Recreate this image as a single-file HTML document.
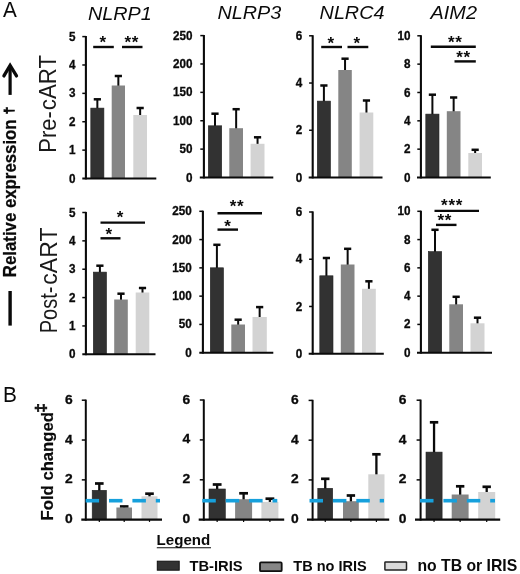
<!DOCTYPE html>
<html lang="en"><head><meta charset="utf-8"><title>Figure</title>
<style>html,body{margin:0;padding:0;background:#fff}svg{display:block;filter:blur(0.4px)}</style></head>
<body>
<svg width="520" height="574" viewBox="0 0 520 574" font-family="'Liberation Sans', sans-serif" fill="#0a0a0a">
<rect width="520" height="574" fill="#fff"/>
<text transform="translate(3.00,17.00) scale(0.95,1)" font-size="21.8" font-weight="normal" text-anchor="start"  style="">A</text>
<text transform="translate(3.00,401.90) scale(0.97,1)" font-size="21.5" font-weight="normal" text-anchor="start"  style="">B</text>
<text transform="translate(88.00,20.00) scale(1.075,1)" font-size="18.4" font-weight="normal" text-anchor="start"  style="font-style:italic">NLRP1</text>
<text transform="translate(217.50,18.80) scale(1.075,1)" font-size="18.4" font-weight="normal" text-anchor="start"  style="font-style:italic">NLRP3</text>
<text transform="translate(319.60,19.30) scale(1.075,1)" font-size="18.4" font-weight="normal" text-anchor="start"  style="font-style:italic">NLRC4</text>
<text transform="translate(430.60,19.30) scale(1.075,1)" font-size="18.5" font-weight="normal" text-anchor="start"  style="font-style:italic">AIM2</text>
<line x1="97.35" y1="99.30" x2="97.35" y2="108.80" stroke="#0a0a0a" stroke-width="2.0" />
<line x1="93.75" y1="99.30" x2="100.95" y2="99.30" stroke="#0a0a0a" stroke-width="2.5" />
<rect x="90.80" y="108.10" width="13.10" height="70.40" fill="#323232" stroke="#222" stroke-width="0.6"/>
<line x1="118.35" y1="76.00" x2="118.35" y2="86.50" stroke="#0a0a0a" stroke-width="2.0" />
<line x1="114.75" y1="76.00" x2="121.95" y2="76.00" stroke="#0a0a0a" stroke-width="2.5" />
<rect x="111.70" y="85.50" width="13.30" height="93.00" fill="#858585" />
<line x1="140.15" y1="108.00" x2="140.15" y2="116.00" stroke="#0a0a0a" stroke-width="2.0" />
<line x1="136.55" y1="108.00" x2="143.75" y2="108.00" stroke="#0a0a0a" stroke-width="2.5" />
<rect x="133.30" y="115.00" width="13.70" height="63.50" fill="#d3d3d3" />
<line x1="85.90" y1="36.00" x2="85.90" y2="179.40" stroke="#0a0a0a" stroke-width="2.1" />
<line x1="82.30" y1="178.50" x2="156.30" y2="178.50" stroke="#0a0a0a" stroke-width="1.9" />
<text transform="translate(75.40,182.56) scale(0.99,1.08)" font-size="11.8" font-weight="bold" text-anchor="end" stroke="#0a0a0a" stroke-width="0.3" style="">0</text>
<line x1="82.30" y1="150.12" x2="85.90" y2="150.12" stroke="#0a0a0a" stroke-width="1.5" />
<text transform="translate(75.40,154.18) scale(0.99,1.08)" font-size="11.8" font-weight="bold" text-anchor="end" stroke="#0a0a0a" stroke-width="0.3" style="">1</text>
<line x1="82.30" y1="121.74" x2="85.90" y2="121.74" stroke="#0a0a0a" stroke-width="1.5" />
<text transform="translate(75.40,125.80) scale(0.99,1.08)" font-size="11.8" font-weight="bold" text-anchor="end" stroke="#0a0a0a" stroke-width="0.3" style="">2</text>
<line x1="82.30" y1="93.36" x2="85.90" y2="93.36" stroke="#0a0a0a" stroke-width="1.5" />
<text transform="translate(75.40,97.42) scale(0.99,1.08)" font-size="11.8" font-weight="bold" text-anchor="end" stroke="#0a0a0a" stroke-width="0.3" style="">3</text>
<line x1="82.30" y1="64.98" x2="85.90" y2="64.98" stroke="#0a0a0a" stroke-width="1.5" />
<text transform="translate(75.40,69.04) scale(0.99,1.08)" font-size="11.8" font-weight="bold" text-anchor="end" stroke="#0a0a0a" stroke-width="0.3" style="">4</text>
<line x1="82.30" y1="36.60" x2="85.90" y2="36.60" stroke="#0a0a0a" stroke-width="1.5" />
<text transform="translate(75.40,40.66) scale(0.99,1.08)" font-size="11.8" font-weight="bold" text-anchor="end" stroke="#0a0a0a" stroke-width="0.3" style="">5</text>
<line x1="93.20" y1="47.00" x2="113.80" y2="47.00" stroke="#0a0a0a" stroke-width="2.4" />
<text x="103.10" y="48.46" font-size="17.0" font-weight="bold" text-anchor="middle" letter-spacing="0.7" style="">*</text>
<line x1="122.00" y1="47.00" x2="142.50" y2="47.00" stroke="#0a0a0a" stroke-width="2.4" />
<text x="131.80" y="48.46" font-size="17.0" font-weight="bold" text-anchor="middle" letter-spacing="0.7" style="">**</text>
<line x1="215.00" y1="113.70" x2="215.00" y2="126.50" stroke="#0a0a0a" stroke-width="2.0" />
<line x1="211.40" y1="113.70" x2="218.60" y2="113.70" stroke="#0a0a0a" stroke-width="2.5" />
<rect x="208.30" y="125.80" width="13.40" height="51.70" fill="#323232" stroke="#222" stroke-width="0.6"/>
<line x1="236.15" y1="109.20" x2="236.15" y2="129.20" stroke="#0a0a0a" stroke-width="2.0" />
<line x1="232.55" y1="109.20" x2="239.75" y2="109.20" stroke="#0a0a0a" stroke-width="2.5" />
<rect x="229.30" y="128.20" width="13.70" height="49.30" fill="#858585" />
<line x1="257.55" y1="137.30" x2="257.55" y2="144.80" stroke="#0a0a0a" stroke-width="2.0" />
<line x1="253.95" y1="137.30" x2="261.15" y2="137.30" stroke="#0a0a0a" stroke-width="2.5" />
<rect x="250.60" y="143.80" width="13.90" height="33.70" fill="#d3d3d3" />
<line x1="203.90" y1="35.00" x2="203.90" y2="178.40" stroke="#0a0a0a" stroke-width="2.1" />
<line x1="199.80" y1="177.50" x2="273.30" y2="177.50" stroke="#0a0a0a" stroke-width="1.9" />
<text transform="translate(192.60,181.56) scale(0.99,1.08)" font-size="11.8" font-weight="bold" text-anchor="end" stroke="#0a0a0a" stroke-width="0.3" style="">0</text>
<line x1="200.30" y1="149.12" x2="203.90" y2="149.12" stroke="#0a0a0a" stroke-width="1.5" />
<text transform="translate(192.60,153.18) scale(0.99,1.08)" font-size="11.8" font-weight="bold" text-anchor="end" stroke="#0a0a0a" stroke-width="0.3" style="">50</text>
<line x1="200.30" y1="120.74" x2="203.90" y2="120.74" stroke="#0a0a0a" stroke-width="1.5" />
<text transform="translate(192.60,124.80) scale(0.99,1.08)" font-size="11.8" font-weight="bold" text-anchor="end" stroke="#0a0a0a" stroke-width="0.3" style="">100</text>
<line x1="200.30" y1="92.36" x2="203.90" y2="92.36" stroke="#0a0a0a" stroke-width="1.5" />
<text transform="translate(192.60,96.42) scale(0.99,1.08)" font-size="11.8" font-weight="bold" text-anchor="end" stroke="#0a0a0a" stroke-width="0.3" style="">150</text>
<line x1="200.30" y1="63.98" x2="203.90" y2="63.98" stroke="#0a0a0a" stroke-width="1.5" />
<text transform="translate(192.60,68.04) scale(0.99,1.08)" font-size="11.8" font-weight="bold" text-anchor="end" stroke="#0a0a0a" stroke-width="0.3" style="">200</text>
<line x1="200.30" y1="35.60" x2="203.90" y2="35.60" stroke="#0a0a0a" stroke-width="1.5" />
<text transform="translate(192.60,39.66) scale(0.99,1.08)" font-size="11.8" font-weight="bold" text-anchor="end" stroke="#0a0a0a" stroke-width="0.3" style="">250</text>
<line x1="323.90" y1="85.50" x2="323.90" y2="101.80" stroke="#0a0a0a" stroke-width="2.0" />
<line x1="320.30" y1="85.50" x2="327.50" y2="85.50" stroke="#0a0a0a" stroke-width="2.5" />
<rect x="317.30" y="101.10" width="13.20" height="76.40" fill="#323232" stroke="#222" stroke-width="0.6"/>
<line x1="345.05" y1="58.70" x2="345.05" y2="71.00" stroke="#0a0a0a" stroke-width="2.0" />
<line x1="341.45" y1="58.70" x2="348.65" y2="58.70" stroke="#0a0a0a" stroke-width="2.5" />
<rect x="338.30" y="70.00" width="13.50" height="107.50" fill="#858585" />
<line x1="366.45" y1="100.50" x2="366.45" y2="113.50" stroke="#0a0a0a" stroke-width="2.0" />
<line x1="362.85" y1="100.50" x2="370.05" y2="100.50" stroke="#0a0a0a" stroke-width="2.5" />
<rect x="359.60" y="112.50" width="13.70" height="65.00" fill="#d3d3d3" />
<line x1="312.70" y1="35.20" x2="312.70" y2="178.40" stroke="#0a0a0a" stroke-width="2.1" />
<line x1="308.70" y1="177.50" x2="382.50" y2="177.50" stroke="#0a0a0a" stroke-width="1.9" />
<text transform="translate(302.20,181.56) scale(0.99,1.08)" font-size="11.8" font-weight="bold" text-anchor="end" stroke="#0a0a0a" stroke-width="0.3" style="">0</text>
<line x1="309.10" y1="130.27" x2="312.70" y2="130.27" stroke="#0a0a0a" stroke-width="1.5" />
<text transform="translate(302.20,134.33) scale(0.99,1.08)" font-size="11.8" font-weight="bold" text-anchor="end" stroke="#0a0a0a" stroke-width="0.3" style="">2</text>
<line x1="309.10" y1="83.03" x2="312.70" y2="83.03" stroke="#0a0a0a" stroke-width="1.5" />
<text transform="translate(302.20,87.10) scale(0.99,1.08)" font-size="11.8" font-weight="bold" text-anchor="end" stroke="#0a0a0a" stroke-width="0.3" style="">4</text>
<line x1="309.10" y1="35.80" x2="312.70" y2="35.80" stroke="#0a0a0a" stroke-width="1.5" />
<text transform="translate(302.20,39.86) scale(0.99,1.08)" font-size="11.8" font-weight="bold" text-anchor="end" stroke="#0a0a0a" stroke-width="0.3" style="">6</text>
<line x1="321.20" y1="47.00" x2="342.00" y2="47.00" stroke="#0a0a0a" stroke-width="2.4" />
<text x="331.10" y="49.26" font-size="17.0" font-weight="bold" text-anchor="middle" letter-spacing="0.7" style="">*</text>
<line x1="347.50" y1="47.00" x2="368.30" y2="47.00" stroke="#0a0a0a" stroke-width="2.4" />
<text x="357.10" y="49.26" font-size="17.0" font-weight="bold" text-anchor="middle" letter-spacing="0.7" style="">*</text>
<line x1="432.40" y1="94.70" x2="432.40" y2="114.80" stroke="#0a0a0a" stroke-width="2.0" />
<line x1="428.80" y1="94.70" x2="436.00" y2="94.70" stroke="#0a0a0a" stroke-width="2.5" />
<rect x="425.80" y="114.10" width="13.20" height="63.40" fill="#323232" stroke="#222" stroke-width="0.6"/>
<line x1="453.65" y1="97.50" x2="453.65" y2="112.20" stroke="#0a0a0a" stroke-width="2.0" />
<line x1="450.05" y1="97.50" x2="457.25" y2="97.50" stroke="#0a0a0a" stroke-width="2.5" />
<rect x="446.80" y="111.20" width="13.70" height="66.30" fill="#858585" />
<line x1="475.15" y1="149.80" x2="475.15" y2="154.00" stroke="#0a0a0a" stroke-width="2.0" />
<line x1="471.55" y1="149.80" x2="478.75" y2="149.80" stroke="#0a0a0a" stroke-width="2.5" />
<rect x="468.30" y="153.00" width="13.70" height="24.50" fill="#d3d3d3" />
<line x1="420.90" y1="35.20" x2="420.90" y2="178.40" stroke="#0a0a0a" stroke-width="2.1" />
<line x1="417.00" y1="177.50" x2="490.80" y2="177.50" stroke="#0a0a0a" stroke-width="1.9" />
<text transform="translate(410.40,181.56) scale(0.99,1.08)" font-size="11.8" font-weight="bold" text-anchor="end" stroke="#0a0a0a" stroke-width="0.3" style="">0</text>
<line x1="417.30" y1="149.16" x2="420.90" y2="149.16" stroke="#0a0a0a" stroke-width="1.5" />
<text transform="translate(410.40,153.22) scale(0.99,1.08)" font-size="11.8" font-weight="bold" text-anchor="end" stroke="#0a0a0a" stroke-width="0.3" style="">2</text>
<line x1="417.30" y1="120.82" x2="420.90" y2="120.82" stroke="#0a0a0a" stroke-width="1.5" />
<text transform="translate(410.40,124.88) scale(0.99,1.08)" font-size="11.8" font-weight="bold" text-anchor="end" stroke="#0a0a0a" stroke-width="0.3" style="">4</text>
<line x1="417.30" y1="92.48" x2="420.90" y2="92.48" stroke="#0a0a0a" stroke-width="1.5" />
<text transform="translate(410.40,96.54) scale(0.99,1.08)" font-size="11.8" font-weight="bold" text-anchor="end" stroke="#0a0a0a" stroke-width="0.3" style="">6</text>
<line x1="417.30" y1="64.14" x2="420.90" y2="64.14" stroke="#0a0a0a" stroke-width="1.5" />
<text transform="translate(410.40,68.20) scale(0.99,1.08)" font-size="11.8" font-weight="bold" text-anchor="end" stroke="#0a0a0a" stroke-width="0.3" style="">8</text>
<line x1="417.30" y1="35.80" x2="420.90" y2="35.80" stroke="#0a0a0a" stroke-width="1.5" />
<text transform="translate(410.40,39.86) scale(0.99,1.08)" font-size="11.8" font-weight="bold" text-anchor="end" stroke="#0a0a0a" stroke-width="0.3" style="">10</text>
<line x1="430.80" y1="46.70" x2="475.80" y2="46.70" stroke="#0a0a0a" stroke-width="2.4" />
<text x="455.30" y="48.05" font-size="17.0" font-weight="bold" text-anchor="middle" letter-spacing="0.7" style="">**</text>
<line x1="454.50" y1="61.40" x2="475.80" y2="61.40" stroke="#0a0a0a" stroke-width="2.4" />
<text x="463.60" y="63.05" font-size="17.0" font-weight="bold" text-anchor="middle" letter-spacing="0.7" style="">**</text>
<line x1="99.90" y1="265.70" x2="99.90" y2="272.80" stroke="#0a0a0a" stroke-width="2.0" />
<line x1="96.30" y1="265.70" x2="103.50" y2="265.70" stroke="#0a0a0a" stroke-width="2.5" />
<rect x="93.30" y="272.10" width="13.20" height="82.20" fill="#323232" stroke="#222" stroke-width="0.6"/>
<line x1="121.00" y1="293.70" x2="121.00" y2="300.50" stroke="#0a0a0a" stroke-width="2.0" />
<line x1="117.40" y1="293.70" x2="124.60" y2="293.70" stroke="#0a0a0a" stroke-width="2.5" />
<rect x="114.20" y="299.50" width="13.60" height="54.80" fill="#858585" />
<line x1="142.50" y1="288.00" x2="142.50" y2="293.50" stroke="#0a0a0a" stroke-width="2.0" />
<line x1="138.90" y1="288.00" x2="146.10" y2="288.00" stroke="#0a0a0a" stroke-width="2.5" />
<rect x="135.70" y="292.50" width="13.60" height="61.80" fill="#d3d3d3" />
<line x1="85.90" y1="211.90" x2="85.90" y2="355.20" stroke="#0a0a0a" stroke-width="2.1" />
<line x1="82.30" y1="354.30" x2="155.50" y2="354.30" stroke="#0a0a0a" stroke-width="1.9" />
<text transform="translate(75.40,358.36) scale(0.99,1.08)" font-size="11.8" font-weight="bold" text-anchor="end" stroke="#0a0a0a" stroke-width="0.3" style="">0</text>
<line x1="82.30" y1="325.94" x2="85.90" y2="325.94" stroke="#0a0a0a" stroke-width="1.5" />
<text transform="translate(75.40,330.00) scale(0.99,1.08)" font-size="11.8" font-weight="bold" text-anchor="end" stroke="#0a0a0a" stroke-width="0.3" style="">1</text>
<line x1="82.30" y1="297.58" x2="85.90" y2="297.58" stroke="#0a0a0a" stroke-width="1.5" />
<text transform="translate(75.40,301.64) scale(0.99,1.08)" font-size="11.8" font-weight="bold" text-anchor="end" stroke="#0a0a0a" stroke-width="0.3" style="">2</text>
<line x1="82.30" y1="269.22" x2="85.90" y2="269.22" stroke="#0a0a0a" stroke-width="1.5" />
<text transform="translate(75.40,273.28) scale(0.99,1.08)" font-size="11.8" font-weight="bold" text-anchor="end" stroke="#0a0a0a" stroke-width="0.3" style="">3</text>
<line x1="82.30" y1="240.86" x2="85.90" y2="240.86" stroke="#0a0a0a" stroke-width="1.5" />
<text transform="translate(75.40,244.92) scale(0.99,1.08)" font-size="11.8" font-weight="bold" text-anchor="end" stroke="#0a0a0a" stroke-width="0.3" style="">4</text>
<line x1="82.30" y1="212.50" x2="85.90" y2="212.50" stroke="#0a0a0a" stroke-width="1.5" />
<text transform="translate(75.40,216.56) scale(0.99,1.08)" font-size="11.8" font-weight="bold" text-anchor="end" stroke="#0a0a0a" stroke-width="0.3" style="">5</text>
<line x1="100.50" y1="222.60" x2="145.00" y2="222.60" stroke="#0a0a0a" stroke-width="2.4" />
<text x="120.30" y="222.56" font-size="17.0" font-weight="bold" text-anchor="middle" letter-spacing="0.7" style="">*</text>
<line x1="100.50" y1="238.30" x2="120.50" y2="238.30" stroke="#0a0a0a" stroke-width="2.4" />
<text x="109.10" y="239.75" font-size="17.0" font-weight="bold" text-anchor="middle" letter-spacing="0.7" style="">*</text>
<line x1="216.90" y1="244.80" x2="216.90" y2="268.50" stroke="#0a0a0a" stroke-width="2.0" />
<line x1="213.30" y1="244.80" x2="220.50" y2="244.80" stroke="#0a0a0a" stroke-width="2.5" />
<rect x="210.30" y="267.80" width="13.20" height="84.90" fill="#323232" stroke="#222" stroke-width="0.6"/>
<line x1="238.15" y1="319.70" x2="238.15" y2="325.50" stroke="#0a0a0a" stroke-width="2.0" />
<line x1="234.55" y1="319.70" x2="241.75" y2="319.70" stroke="#0a0a0a" stroke-width="2.5" />
<rect x="231.30" y="324.50" width="13.70" height="28.20" fill="#858585" />
<line x1="259.65" y1="307.10" x2="259.65" y2="318.00" stroke="#0a0a0a" stroke-width="2.0" />
<line x1="256.05" y1="307.10" x2="263.25" y2="307.10" stroke="#0a0a0a" stroke-width="2.5" />
<rect x="252.50" y="317.00" width="14.30" height="35.70" fill="#d3d3d3" />
<line x1="202.90" y1="210.70" x2="202.90" y2="353.60" stroke="#0a0a0a" stroke-width="2.1" />
<line x1="199.30" y1="352.70" x2="273.30" y2="352.70" stroke="#0a0a0a" stroke-width="1.9" />
<text transform="translate(191.80,356.76) scale(0.99,1.08)" font-size="11.8" font-weight="bold" text-anchor="end" stroke="#0a0a0a" stroke-width="0.3" style="">0</text>
<line x1="199.30" y1="324.42" x2="202.90" y2="324.42" stroke="#0a0a0a" stroke-width="1.5" />
<text transform="translate(191.80,328.48) scale(0.99,1.08)" font-size="11.8" font-weight="bold" text-anchor="end" stroke="#0a0a0a" stroke-width="0.3" style="">50</text>
<line x1="199.30" y1="296.14" x2="202.90" y2="296.14" stroke="#0a0a0a" stroke-width="1.5" />
<text transform="translate(191.80,300.20) scale(0.99,1.08)" font-size="11.8" font-weight="bold" text-anchor="end" stroke="#0a0a0a" stroke-width="0.3" style="">100</text>
<line x1="199.30" y1="267.86" x2="202.90" y2="267.86" stroke="#0a0a0a" stroke-width="1.5" />
<text transform="translate(191.80,271.92) scale(0.99,1.08)" font-size="11.8" font-weight="bold" text-anchor="end" stroke="#0a0a0a" stroke-width="0.3" style="">150</text>
<line x1="199.30" y1="239.58" x2="202.90" y2="239.58" stroke="#0a0a0a" stroke-width="1.5" />
<text transform="translate(191.80,243.64) scale(0.99,1.08)" font-size="11.8" font-weight="bold" text-anchor="end" stroke="#0a0a0a" stroke-width="0.3" style="">200</text>
<line x1="199.30" y1="211.30" x2="202.90" y2="211.30" stroke="#0a0a0a" stroke-width="1.5" />
<text transform="translate(191.80,215.36) scale(0.99,1.08)" font-size="11.8" font-weight="bold" text-anchor="end" stroke="#0a0a0a" stroke-width="0.3" style="">250</text>
<line x1="217.50" y1="213.30" x2="262.00" y2="213.30" stroke="#0a0a0a" stroke-width="2.4" />
<text x="237.10" y="211.75" font-size="17.0" font-weight="bold" text-anchor="middle" letter-spacing="0.7" style="">**</text>
<line x1="217.50" y1="229.60" x2="238.00" y2="229.60" stroke="#0a0a0a" stroke-width="2.4" />
<text x="227.80" y="231.75" font-size="17.0" font-weight="bold" text-anchor="middle" letter-spacing="0.7" style="">*</text>
<line x1="326.40" y1="258.00" x2="326.40" y2="276.50" stroke="#0a0a0a" stroke-width="2.0" />
<line x1="322.80" y1="258.00" x2="330.00" y2="258.00" stroke="#0a0a0a" stroke-width="2.5" />
<rect x="319.80" y="275.80" width="13.20" height="77.90" fill="#323232" stroke="#222" stroke-width="0.6"/>
<line x1="347.65" y1="248.80" x2="347.65" y2="265.50" stroke="#0a0a0a" stroke-width="2.0" />
<line x1="344.05" y1="248.80" x2="351.25" y2="248.80" stroke="#0a0a0a" stroke-width="2.5" />
<rect x="340.80" y="264.50" width="13.70" height="89.20" fill="#858585" />
<line x1="368.90" y1="281.30" x2="368.90" y2="289.80" stroke="#0a0a0a" stroke-width="2.0" />
<line x1="365.30" y1="281.30" x2="372.50" y2="281.30" stroke="#0a0a0a" stroke-width="2.5" />
<rect x="362.00" y="288.80" width="13.80" height="64.90" fill="#d3d3d3" />
<line x1="312.70" y1="211.40" x2="312.70" y2="354.60" stroke="#0a0a0a" stroke-width="2.1" />
<line x1="308.70" y1="353.70" x2="383.80" y2="353.70" stroke="#0a0a0a" stroke-width="1.9" />
<text transform="translate(302.20,357.76) scale(0.99,1.08)" font-size="11.8" font-weight="bold" text-anchor="end" stroke="#0a0a0a" stroke-width="0.3" style="">0</text>
<line x1="309.10" y1="306.47" x2="312.70" y2="306.47" stroke="#0a0a0a" stroke-width="1.5" />
<text transform="translate(302.20,310.53) scale(0.99,1.08)" font-size="11.8" font-weight="bold" text-anchor="end" stroke="#0a0a0a" stroke-width="0.3" style="">2</text>
<line x1="309.10" y1="259.23" x2="312.70" y2="259.23" stroke="#0a0a0a" stroke-width="1.5" />
<text transform="translate(302.20,263.30) scale(0.99,1.08)" font-size="11.8" font-weight="bold" text-anchor="end" stroke="#0a0a0a" stroke-width="0.3" style="">4</text>
<line x1="309.10" y1="212.00" x2="312.70" y2="212.00" stroke="#0a0a0a" stroke-width="1.5" />
<text transform="translate(302.20,216.06) scale(0.99,1.08)" font-size="11.8" font-weight="bold" text-anchor="end" stroke="#0a0a0a" stroke-width="0.3" style="">6</text>
<line x1="435.00" y1="229.80" x2="435.00" y2="252.30" stroke="#0a0a0a" stroke-width="2.0" />
<line x1="431.40" y1="229.80" x2="438.60" y2="229.80" stroke="#0a0a0a" stroke-width="2.5" />
<rect x="428.30" y="251.60" width="13.40" height="101.10" fill="#323232" stroke="#222" stroke-width="0.6"/>
<line x1="456.15" y1="296.80" x2="456.15" y2="305.30" stroke="#0a0a0a" stroke-width="2.0" />
<line x1="452.55" y1="296.80" x2="459.75" y2="296.80" stroke="#0a0a0a" stroke-width="2.5" />
<rect x="449.30" y="304.30" width="13.70" height="48.40" fill="#858585" />
<line x1="477.50" y1="317.70" x2="477.50" y2="324.30" stroke="#0a0a0a" stroke-width="2.0" />
<line x1="473.90" y1="317.70" x2="481.10" y2="317.70" stroke="#0a0a0a" stroke-width="2.5" />
<rect x="470.50" y="323.30" width="14.00" height="29.40" fill="#d3d3d3" />
<line x1="420.90" y1="210.70" x2="420.90" y2="353.60" stroke="#0a0a0a" stroke-width="2.1" />
<line x1="417.00" y1="352.70" x2="492.00" y2="352.70" stroke="#0a0a0a" stroke-width="1.9" />
<text transform="translate(410.40,356.76) scale(0.99,1.08)" font-size="11.8" font-weight="bold" text-anchor="end" stroke="#0a0a0a" stroke-width="0.3" style="">0</text>
<line x1="417.30" y1="324.42" x2="420.90" y2="324.42" stroke="#0a0a0a" stroke-width="1.5" />
<text transform="translate(410.40,328.48) scale(0.99,1.08)" font-size="11.8" font-weight="bold" text-anchor="end" stroke="#0a0a0a" stroke-width="0.3" style="">2</text>
<line x1="417.30" y1="296.14" x2="420.90" y2="296.14" stroke="#0a0a0a" stroke-width="1.5" />
<text transform="translate(410.40,300.20) scale(0.99,1.08)" font-size="11.8" font-weight="bold" text-anchor="end" stroke="#0a0a0a" stroke-width="0.3" style="">4</text>
<line x1="417.30" y1="267.86" x2="420.90" y2="267.86" stroke="#0a0a0a" stroke-width="1.5" />
<text transform="translate(410.40,271.92) scale(0.99,1.08)" font-size="11.8" font-weight="bold" text-anchor="end" stroke="#0a0a0a" stroke-width="0.3" style="">6</text>
<line x1="417.30" y1="239.58" x2="420.90" y2="239.58" stroke="#0a0a0a" stroke-width="1.5" />
<text transform="translate(410.40,243.64) scale(0.99,1.08)" font-size="11.8" font-weight="bold" text-anchor="end" stroke="#0a0a0a" stroke-width="0.3" style="">8</text>
<line x1="417.30" y1="211.30" x2="420.90" y2="211.30" stroke="#0a0a0a" stroke-width="1.5" />
<text transform="translate(410.40,215.36) scale(0.99,1.08)" font-size="11.8" font-weight="bold" text-anchor="end" stroke="#0a0a0a" stroke-width="0.3" style="">10</text>
<line x1="434.50" y1="210.90" x2="479.00" y2="210.90" stroke="#0a0a0a" stroke-width="2.4" />
<text x="452.10" y="210.56" font-size="17.0" font-weight="bold" text-anchor="middle" letter-spacing="0.7" style="">***</text>
<line x1="436.00" y1="224.90" x2="456.50" y2="224.90" stroke="#0a0a0a" stroke-width="2.4" />
<text x="444.80" y="226.25" font-size="17.0" font-weight="bold" text-anchor="middle" letter-spacing="0.7" style="">**</text>
<line x1="99.30" y1="483.50" x2="99.30" y2="491.00" stroke="#0a0a0a" stroke-width="2.3" />
<line x1="95.00" y1="483.50" x2="103.60" y2="483.50" stroke="#0a0a0a" stroke-width="2.7" />
<rect x="92.20" y="490.30" width="14.20" height="29.40" fill="#323232" stroke="#222" stroke-width="0.6"/>
<line x1="124.20" y1="506.50" x2="124.20" y2="508.50" stroke="#0a0a0a" stroke-width="2.3" />
<line x1="119.90" y1="506.50" x2="128.50" y2="506.50" stroke="#0a0a0a" stroke-width="2.7" />
<rect x="116.40" y="507.50" width="15.60" height="12.20" fill="#858585" />
<line x1="149.50" y1="493.70" x2="149.50" y2="497.30" stroke="#0a0a0a" stroke-width="2.3" />
<line x1="145.20" y1="493.70" x2="153.80" y2="493.70" stroke="#0a0a0a" stroke-width="2.7" />
<rect x="141.50" y="496.30" width="16.00" height="23.40" fill="#d3d3d3" />
<line x1="85.80" y1="399.60" x2="85.80" y2="520.60" stroke="#0a0a0a" stroke-width="2.0" />
<line x1="81.30" y1="519.70" x2="162.00" y2="519.70" stroke="#0a0a0a" stroke-width="2.2" />
<text transform="translate(72.80,523.24) scale(1.08,0.99)" font-size="12.8" font-weight="bold" text-anchor="end" stroke="#0a0a0a" stroke-width="0.3" style="">0</text>
<line x1="81.80" y1="479.87" x2="85.80" y2="479.87" stroke="#0a0a0a" stroke-width="1.5" />
<text transform="translate(72.80,483.40) scale(1.08,0.99)" font-size="12.8" font-weight="bold" text-anchor="end" stroke="#0a0a0a" stroke-width="0.3" style="">2</text>
<line x1="81.80" y1="440.03" x2="85.80" y2="440.03" stroke="#0a0a0a" stroke-width="1.5" />
<text transform="translate(72.80,443.57) scale(1.08,0.99)" font-size="12.8" font-weight="bold" text-anchor="end" stroke="#0a0a0a" stroke-width="0.3" style="">4</text>
<line x1="81.80" y1="400.20" x2="85.80" y2="400.20" stroke="#0a0a0a" stroke-width="1.5" />
<text transform="translate(72.80,403.74) scale(1.08,0.99)" font-size="12.8" font-weight="bold" text-anchor="end" stroke="#0a0a0a" stroke-width="0.3" style="">6</text>
<line x1="99.30" y1="519.70" x2="99.30" y2="521.90" stroke="#0a0a0a" stroke-width="1.2" />
<line x1="124.20" y1="519.70" x2="124.20" y2="521.90" stroke="#0a0a0a" stroke-width="1.2" />
<line x1="149.50" y1="519.70" x2="149.50" y2="521.90" stroke="#0a0a0a" stroke-width="1.2" />
<line x1="85.60" y1="500.70" x2="99.10" y2="500.70" stroke="#16a0dc" stroke-width="3.6" />
<line x1="109.00" y1="500.70" x2="122.50" y2="500.70" stroke="#16a0dc" stroke-width="3.6" />
<line x1="132.40" y1="500.70" x2="145.90" y2="500.70" stroke="#16a0dc" stroke-width="3.6" />
<line x1="155.80" y1="500.70" x2="160.00" y2="500.70" stroke="#16a0dc" stroke-width="3.6" />
<line x1="217.15" y1="484.50" x2="217.15" y2="489.70" stroke="#0a0a0a" stroke-width="2.3" />
<line x1="212.75" y1="484.50" x2="221.55" y2="484.50" stroke="#0a0a0a" stroke-width="2.7" />
<rect x="209.00" y="489.00" width="16.30" height="30.70" fill="#323232" stroke="#222" stroke-width="0.6"/>
<line x1="243.60" y1="493.30" x2="243.60" y2="500.20" stroke="#0a0a0a" stroke-width="2.3" />
<line x1="239.20" y1="493.30" x2="248.00" y2="493.30" stroke="#0a0a0a" stroke-width="2.7" />
<rect x="235.10" y="499.20" width="17.00" height="20.50" fill="#858585" />
<line x1="269.90" y1="498.70" x2="269.90" y2="502.90" stroke="#0a0a0a" stroke-width="2.3" />
<line x1="265.50" y1="498.70" x2="274.30" y2="498.70" stroke="#0a0a0a" stroke-width="2.7" />
<rect x="261.40" y="501.90" width="17.00" height="17.80" fill="#d3d3d3" />
<line x1="203.80" y1="399.40" x2="203.80" y2="520.60" stroke="#0a0a0a" stroke-width="2.0" />
<line x1="198.70" y1="519.70" x2="284.20" y2="519.70" stroke="#0a0a0a" stroke-width="2.2" />
<text transform="translate(190.30,523.24) scale(1.08,0.99)" font-size="12.8" font-weight="bold" text-anchor="end" stroke="#0a0a0a" stroke-width="0.3" style="">0</text>
<line x1="199.80" y1="479.80" x2="203.80" y2="479.80" stroke="#0a0a0a" stroke-width="1.5" />
<text transform="translate(190.30,483.34) scale(1.08,0.99)" font-size="12.8" font-weight="bold" text-anchor="end" stroke="#0a0a0a" stroke-width="0.3" style="">2</text>
<line x1="199.80" y1="439.90" x2="203.80" y2="439.90" stroke="#0a0a0a" stroke-width="1.5" />
<text transform="translate(190.30,443.44) scale(1.08,0.99)" font-size="12.8" font-weight="bold" text-anchor="end" stroke="#0a0a0a" stroke-width="0.3" style="">4</text>
<line x1="199.80" y1="400.00" x2="203.80" y2="400.00" stroke="#0a0a0a" stroke-width="1.5" />
<text transform="translate(190.30,403.54) scale(1.08,0.99)" font-size="12.8" font-weight="bold" text-anchor="end" stroke="#0a0a0a" stroke-width="0.3" style="">6</text>
<line x1="217.15" y1="519.70" x2="217.15" y2="521.90" stroke="#0a0a0a" stroke-width="1.2" />
<line x1="243.60" y1="519.70" x2="243.60" y2="521.90" stroke="#0a0a0a" stroke-width="1.2" />
<line x1="269.90" y1="519.70" x2="269.90" y2="521.90" stroke="#0a0a0a" stroke-width="1.2" />
<line x1="202.30" y1="500.70" x2="215.80" y2="500.70" stroke="#16a0dc" stroke-width="3.6" />
<line x1="225.70" y1="500.70" x2="239.20" y2="500.70" stroke="#16a0dc" stroke-width="3.6" />
<line x1="249.10" y1="500.70" x2="262.60" y2="500.70" stroke="#16a0dc" stroke-width="3.6" />
<line x1="272.50" y1="500.70" x2="277.30" y2="500.70" stroke="#16a0dc" stroke-width="3.6" />
<line x1="325.25" y1="478.80" x2="325.25" y2="489.00" stroke="#0a0a0a" stroke-width="2.3" />
<line x1="321.05" y1="478.80" x2="329.45" y2="478.80" stroke="#0a0a0a" stroke-width="2.7" />
<rect x="317.80" y="488.30" width="14.90" height="31.40" fill="#323232" stroke="#222" stroke-width="0.6"/>
<line x1="350.90" y1="495.50" x2="350.90" y2="502.20" stroke="#0a0a0a" stroke-width="2.3" />
<line x1="346.70" y1="495.50" x2="355.10" y2="495.50" stroke="#0a0a0a" stroke-width="2.7" />
<rect x="343.00" y="501.20" width="15.80" height="18.50" fill="#858585" />
<line x1="376.40" y1="454.30" x2="376.40" y2="475.30" stroke="#0a0a0a" stroke-width="2.3" />
<line x1="372.20" y1="454.30" x2="380.60" y2="454.30" stroke="#0a0a0a" stroke-width="2.7" />
<rect x="368.30" y="474.30" width="16.20" height="45.40" fill="#d3d3d3" />
<line x1="312.60" y1="399.80" x2="312.60" y2="520.60" stroke="#0a0a0a" stroke-width="2.0" />
<line x1="307.00" y1="519.70" x2="389.20" y2="519.70" stroke="#0a0a0a" stroke-width="2.2" />
<text transform="translate(298.80,523.24) scale(1.08,0.99)" font-size="12.8" font-weight="bold" text-anchor="end" stroke="#0a0a0a" stroke-width="0.3" style="">0</text>
<line x1="308.60" y1="479.93" x2="312.60" y2="479.93" stroke="#0a0a0a" stroke-width="1.5" />
<text transform="translate(298.80,483.47) scale(1.08,0.99)" font-size="12.8" font-weight="bold" text-anchor="end" stroke="#0a0a0a" stroke-width="0.3" style="">2</text>
<line x1="308.60" y1="440.17" x2="312.60" y2="440.17" stroke="#0a0a0a" stroke-width="1.5" />
<text transform="translate(298.80,443.70) scale(1.08,0.99)" font-size="12.8" font-weight="bold" text-anchor="end" stroke="#0a0a0a" stroke-width="0.3" style="">4</text>
<line x1="308.60" y1="400.40" x2="312.60" y2="400.40" stroke="#0a0a0a" stroke-width="1.5" />
<text transform="translate(298.80,403.94) scale(1.08,0.99)" font-size="12.8" font-weight="bold" text-anchor="end" stroke="#0a0a0a" stroke-width="0.3" style="">6</text>
<line x1="325.25" y1="519.70" x2="325.25" y2="521.90" stroke="#0a0a0a" stroke-width="1.2" />
<line x1="350.90" y1="519.70" x2="350.90" y2="521.90" stroke="#0a0a0a" stroke-width="1.2" />
<line x1="376.40" y1="519.70" x2="376.40" y2="521.90" stroke="#0a0a0a" stroke-width="1.2" />
<line x1="309.50" y1="500.70" x2="323.00" y2="500.70" stroke="#16a0dc" stroke-width="3.6" />
<line x1="332.90" y1="500.70" x2="346.40" y2="500.70" stroke="#16a0dc" stroke-width="3.6" />
<line x1="356.30" y1="500.70" x2="369.80" y2="500.70" stroke="#16a0dc" stroke-width="3.6" />
<line x1="379.70" y1="500.70" x2="384.00" y2="500.70" stroke="#16a0dc" stroke-width="3.6" />
<line x1="434.05" y1="422.30" x2="434.05" y2="452.80" stroke="#0a0a0a" stroke-width="2.3" />
<line x1="429.85" y1="422.30" x2="438.25" y2="422.30" stroke="#0a0a0a" stroke-width="2.7" />
<rect x="426.00" y="452.10" width="16.10" height="67.60" fill="#323232" stroke="#222" stroke-width="0.6"/>
<line x1="460.15" y1="486.30" x2="460.15" y2="495.50" stroke="#0a0a0a" stroke-width="2.3" />
<line x1="455.95" y1="486.30" x2="464.35" y2="486.30" stroke="#0a0a0a" stroke-width="2.7" />
<rect x="451.70" y="494.50" width="16.90" height="25.20" fill="#858585" />
<line x1="486.70" y1="486.80" x2="486.70" y2="493.00" stroke="#0a0a0a" stroke-width="2.3" />
<line x1="482.50" y1="486.80" x2="490.90" y2="486.80" stroke="#0a0a0a" stroke-width="2.7" />
<rect x="478.20" y="492.00" width="17.00" height="27.70" fill="#d3d3d3" />
<line x1="420.60" y1="399.60" x2="420.60" y2="520.60" stroke="#0a0a0a" stroke-width="2.0" />
<line x1="415.00" y1="519.70" x2="500.20" y2="519.70" stroke="#0a0a0a" stroke-width="2.2" />
<text transform="translate(406.40,523.24) scale(1.08,0.99)" font-size="12.8" font-weight="bold" text-anchor="end" stroke="#0a0a0a" stroke-width="0.3" style="">0</text>
<line x1="416.60" y1="479.87" x2="420.60" y2="479.87" stroke="#0a0a0a" stroke-width="1.5" />
<text transform="translate(406.40,483.40) scale(1.08,0.99)" font-size="12.8" font-weight="bold" text-anchor="end" stroke="#0a0a0a" stroke-width="0.3" style="">2</text>
<line x1="416.60" y1="440.03" x2="420.60" y2="440.03" stroke="#0a0a0a" stroke-width="1.5" />
<text transform="translate(406.40,443.57) scale(1.08,0.99)" font-size="12.8" font-weight="bold" text-anchor="end" stroke="#0a0a0a" stroke-width="0.3" style="">4</text>
<line x1="416.60" y1="400.20" x2="420.60" y2="400.20" stroke="#0a0a0a" stroke-width="1.5" />
<text transform="translate(406.40,403.74) scale(1.08,0.99)" font-size="12.8" font-weight="bold" text-anchor="end" stroke="#0a0a0a" stroke-width="0.3" style="">6</text>
<line x1="434.05" y1="519.70" x2="434.05" y2="521.90" stroke="#0a0a0a" stroke-width="1.2" />
<line x1="460.15" y1="519.70" x2="460.15" y2="521.90" stroke="#0a0a0a" stroke-width="1.2" />
<line x1="486.70" y1="519.70" x2="486.70" y2="521.90" stroke="#0a0a0a" stroke-width="1.2" />
<line x1="420.00" y1="500.70" x2="433.50" y2="500.70" stroke="#16a0dc" stroke-width="3.6" />
<line x1="443.40" y1="500.70" x2="456.90" y2="500.70" stroke="#16a0dc" stroke-width="3.6" />
<line x1="466.80" y1="500.70" x2="480.30" y2="500.70" stroke="#16a0dc" stroke-width="3.6" />
<line x1="490.20" y1="500.70" x2="495.00" y2="500.70" stroke="#16a0dc" stroke-width="3.6" />
<text transform="translate(16.1,277.2) rotate(-90)" font-size="17.8" font-weight="bold" stroke="#0a0a0a" stroke-width="0.25" textLength="157.8" lengthAdjust="spacingAndGlyphs">Relative expression</text>
<text transform="translate(13.45,114.2) rotate(-90)" font-size="13.2" font-weight="bold" stroke="#0a0a0a" stroke-width="0.9">†</text>
<line x1="10.10" y1="94.90" x2="10.10" y2="66.50" stroke="#0a0a0a" stroke-width="3.2" />
<polyline points="3.9,75.9 10.1,65.4 16.5,75.9" fill="none" stroke="#0a0a0a" stroke-width="3.3" stroke-linejoin="miter" stroke-linecap="round"/>
<line x1="10.10" y1="291.00" x2="10.10" y2="325.60" stroke="#0a0a0a" stroke-width="3.4" />
<text transform="translate(55.6,152.8) rotate(-90)" font-size="24" font-weight="normal" fill="#1a1a1a" textLength="41.6" lengthAdjust="spacingAndGlyphs">Pre-</text>
<text transform="translate(55.6,110.2) rotate(-90)" font-size="24" font-weight="normal" fill="#1a1a1a" textLength="55.4" lengthAdjust="spacingAndGlyphs">cART</text>
<text transform="translate(56.8,333.3) rotate(-90)" font-size="24" font-weight="normal" fill="#1a1a1a" textLength="46.8" lengthAdjust="spacingAndGlyphs">Post-</text>
<text transform="translate(56.8,284.7) rotate(-90)" font-size="24" font-weight="normal" fill="#1a1a1a" textLength="57.2" lengthAdjust="spacingAndGlyphs">cART</text>
<text transform="translate(53.2,520.4) rotate(-90)" font-size="17" font-weight="bold" stroke="#0a0a0a" stroke-width="0.2" textLength="108.3" lengthAdjust="spacingAndGlyphs">Fold changed</text>
<text transform="translate(45.6,412.5) rotate(-90) scale(1.1,1)" font-size="15" font-weight="bold" stroke="#0a0a0a" stroke-width="0.7">‡</text>
<text x="156.6" y="545.3" font-size="15.1" font-weight="bold">Legend</text>
<line x1="156.80" y1="547.70" x2="211.00" y2="547.70" stroke="#0a0a0a" stroke-width="1.1" />
<rect x="157.30" y="561.20" width="21.90" height="9.00" fill="#323232" stroke="#111" stroke-width="1"/>
<text transform="translate(189.40,570.50) scale(0.97,1)" font-size="15.2" font-weight="bold" text-anchor="start"  style="">TB-IRIS</text>
<rect x="260.00" y="562.40" width="21.70" height="8.80" fill="#868686" stroke="#111" stroke-width="1.8" rx="1"/>
<text transform="translate(293.30,570.80) scale(0.957,1)" font-size="15.2" font-weight="bold" text-anchor="start"  style="">TB no IRIS</text>
<rect x="384.90" y="561.90" width="21.60" height="8.10" fill="#dadada" stroke="#222" stroke-width="1.5" rx="0.6"/>
<text x="417.40" y="570.70" font-size="15.75" font-weight="bold" text-anchor="start"  style="">no TB or IRIS</text>
</svg>
</body></html>
